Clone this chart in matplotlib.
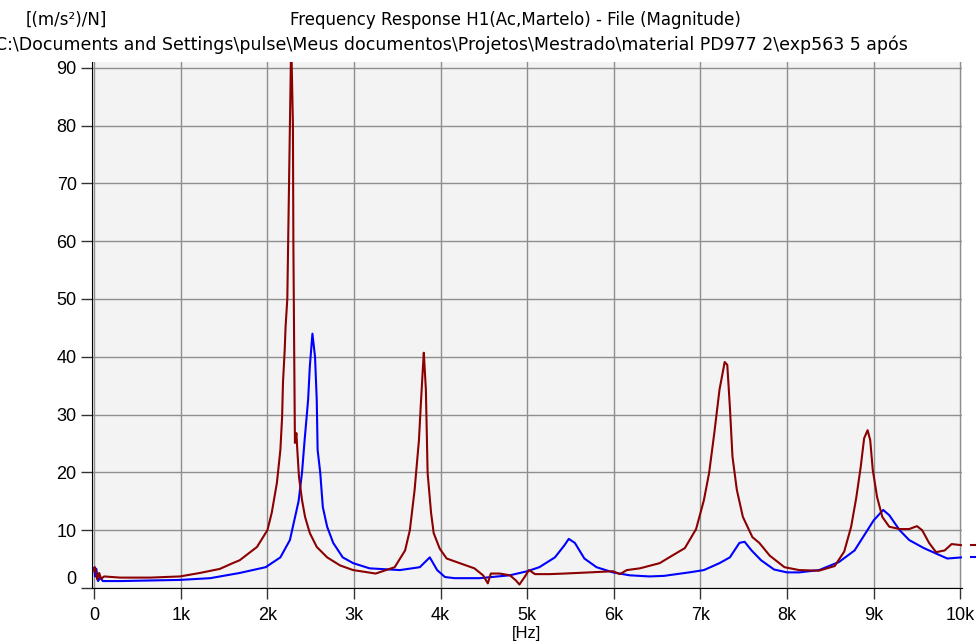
import matplotlib
matplotlib.use("Agg")
import matplotlib.pyplot as plt
from matplotlib.transforms import ScaledTranslation

plt.rcParams['font.family'] = ['Liberation Sans', 'DejaVu Sans']

# Frequency (Hz) and magnitude [(m/s²)/N]
red_f = [0, 10, 35, 58, 80, 115, 300, 650, 990, 1220, 1450, 1600, 1680, 1880, 2000,
         2050, 2110, 2150, 2170, 2180, 2200, 2210, 2230, 2240, 2260, 2275, 2295, 2300,
         2310, 2318, 2335, 2345, 2365, 2400, 2435, 2490, 2570, 2690, 2840, 2990, 3250,
         3470, 3590, 3645, 3700, 3750, 3770, 3795, 3806, 3830, 3850, 3890, 3920, 3990,
         4070, 4220, 4390, 4490, 4545, 4580, 4680, 4800, 4870, 4910, 4970, 5020, 5090,
         5260, 5430, 5720, 5990, 6070, 6150, 6300, 6530, 6640, 6820, 6950, 7040, 7100,
         7160, 7220, 7280, 7310, 7340, 7370, 7420, 7490, 7600, 7680, 7800, 7970, 8140,
         8370, 8550, 8660, 8740, 8800, 8850, 8890, 8930, 8960, 8990, 9040, 9100, 9180,
         9300, 9410, 9500, 9560, 9640, 9720, 9820, 9900, 10020]
red_v = [3.0, 3.6, 1.5, 2.6, 1.6, 2.0, 1.8, 1.8, 2.0, 2.6, 3.3, 4.3, 4.8, 7.1, 10.0,
         13.0, 18.2, 23.9, 29.6, 35.5, 41.2, 45.2, 50.0, 60.0, 80.0, 95.0, 80.0, 60.0,
         40.0, 25.1, 26.8, 24.0, 19.2, 15.2, 12.3, 9.5, 7.1, 5.3, 3.9, 3.1, 2.5,
         3.6, 6.5, 10.0, 17.0, 25.6, 31.3, 38.0, 40.7, 34.3, 19.9, 13.0, 9.5, 6.8,
         5.1, 4.3, 3.4, 2.2, 0.8, 2.5, 2.5, 2.2, 1.3, 0.6, 1.9, 3.1, 2.4,
         2.4, 2.5, 2.7, 2.9, 2.4, 3.1, 3.4, 4.3, 5.3, 6.9, 10.2, 15.2, 19.9,
         26.8, 34.3, 39.1, 38.6, 31.3, 22.7, 17.0, 12.3, 8.8, 7.8, 5.6, 3.6, 3.1,
         3.0, 3.8, 6.3, 10.6, 15.7, 20.9, 25.9, 27.3, 25.6, 20.4, 15.7, 12.3, 10.6,
         10.2, 10.2, 10.7, 10.0, 7.8, 6.2, 6.5, 7.6, 7.4]

blue_f = [0, 10, 25, 45, 70, 100, 300, 990, 1340, 1680, 1980, 2150, 2260, 2360, 2400,
          2430, 2470, 2490, 2520, 2550, 2570, 2580, 2610, 2640, 2690, 2760, 2870, 2990,
          3180, 3530, 3760, 3875, 3960, 4050, 4160, 4450, 4800, 5000, 5140, 5320, 5430,
          5480, 5550, 5660, 5800, 5990, 6180, 6410, 6580, 6870, 7040, 7220, 7340, 7450,
          7510, 7590, 7700, 7850, 8000, 8140, 8370, 8600, 8780, 8890, 9000, 9110, 9180,
          9300, 9410, 9580, 9760, 9850, 10020]
blue_v = [3.5, 2.0, 3.3, 1.2, 1.8, 1.2, 1.2, 1.4, 1.7, 2.6, 3.6, 5.3, 8.3, 15.0, 20.0,
          25.6, 32.5, 38.3, 44.0, 40.0, 32.5, 23.9, 20.0, 14.0, 10.6, 7.8, 5.3, 4.3,
          3.4, 3.1, 3.6, 5.3, 3.1, 1.9, 1.7, 1.7, 2.2, 2.9, 3.6, 5.3, 7.4,
          8.5, 7.8, 5.1, 3.6, 2.7, 2.2, 2.0, 2.1, 2.7, 3.1, 4.3, 5.3, 7.8,
          8.0, 6.5, 4.8, 3.2, 2.7, 2.7, 3.1, 4.5, 6.5, 9.1, 11.7, 13.5, 12.6,
          10.0, 8.3, 6.9, 5.7, 5.1, 5.3]

x_ticks = [0, 1000, 2000, 3000, 4000, 5000, 6000, 7000, 8000, 9000, 10000]
x_labels = ['0', '1k', '2k', '3k', '4k', '5k', '6k', '7k', '8k', '9k', '10k']
y_ticks = [0, 10, 20, 30, 40, 50, 60, 70, 80, 90]

title = 'Frequency Response H1(Ac,Martelo) - File (Magnitude)'
subtitle = r'C:\Documents and Settings\pulse\Meus documentos\Projetos\Mestrado\material PD977 2\exp563 5 após'
unit = '[(m/s²)/N]'

RED = '#8b0000'
BLUE = '#0000ff'

fig = plt.figure(figsize=(9.78, 6.41), dpi=100)
W, H = 978, 641
ax = fig.add_axes([92 / W, (H - 588) / H, (962 - 92) / W, (588 - 62) / H])
ax.set_facecolor('#f3f3f3')

ax.plot(blue_f, blue_v, color=BLUE, lw=1.5, zorder=3)
ax.plot(red_f, red_v, color=RED, lw=1.5, zorder=4)

ax.set_xlim(-25, 10020)
ax.set_ylim(0, 91)
ax.set_xticks(x_ticks)
ax.set_xticklabels(x_labels)
ax.set_yticks(y_ticks)
ax.grid(True, color='#8e8e8e', lw=1.0)
ax.set_axisbelow(True)

for s in ['top', 'right']:
    ax.spines[s].set_visible(False)
ax.spines['left'].set_color('black')
ax.spines['bottom'].set_color('black')
ax.tick_params(axis='both', direction='out', length=8, width=1, labelsize=13,
               color='#333333', pad=3)
ax.tick_params(axis='x', pad=6)

# shift the "0" y-label up like the reference
lbl0 = ax.get_yticklabels()[0]
lbl0.set_transform(lbl0.get_transform() + ScaledTranslation(0, 0.11, fig.dpi_scale_trans))

ax.set_xlabel('[Hz]', fontsize=12, labelpad=1)

# end-value markers at the right border
ax.plot([10150], [red_v[-1]], marker='_', color=RED, ms=5, mew=1.5, clip_on=False)
ax.plot([10150], [blue_v[-1]], marker='_', color=BLUE, ms=5, mew=1.5, clip_on=False)

fig.text(26 / W, 1 - 20 / H, unit, fontsize=12, va='center', ha='left',
         family=['DejaVu Sans'])
fig.text(515 / W, 1 - 20 / H, title, fontsize=12, va='center', ha='center',
         family=['DejaVu Sans'])
fig.text(-5 / W, 1 - 45 / H, subtitle, fontsize=12.5, va='center', ha='left',
         family=['DejaVu Sans'])

fig.savefig('out.png', dpi=100)
